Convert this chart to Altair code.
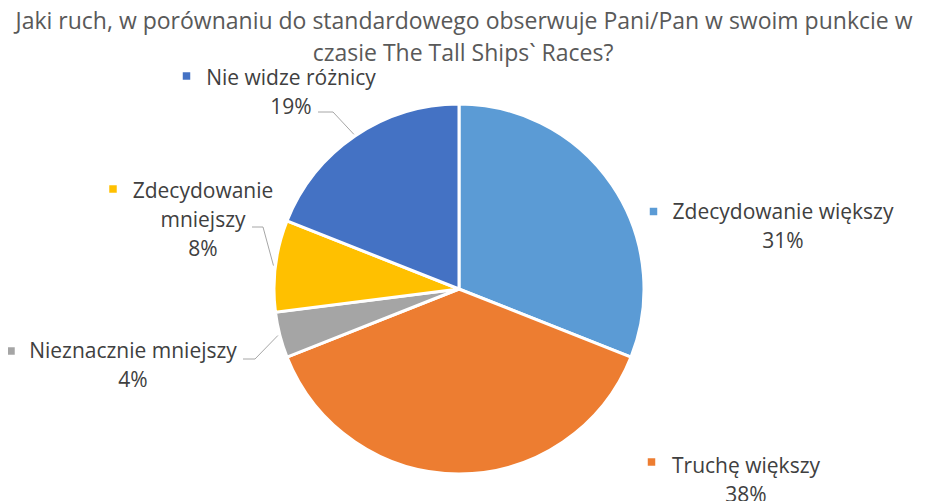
import math
import altair as alt
import pandas as pd

# ---- data ----
categories = ["Zdecydowanie większy", "Truchę większy", "Nieznacznie mniejszy",
              "Zdecydowanie mniejszy", "Nie widze różnicy"]
values = [31, 38, 4, 8, 19]
label_lines = [["Zdecydowanie większy"], ["Truchę większy"], ["Nieznacznie mniejszy"],
               ["Zdecydowanie", "mniejszy"], ["Nie widze różnicy"]]
title_lines = ["Jaki ruch, w porównaniu do standardowego obserwuje Pani/Pan w swoim punkcie w",
               "czasie The Tall Ships` Races?"]

# ---- style / layout ----
colors = ["#5B9BD5", "#ED7D31", "#A5A5A5", "#FFC000", "#4472C4"]
FONT = "Open Sans"
CX, CY, R = 451, 281, 185
W, H = 912, 493
LINE_H = 29
label_anchor = [(775, 211), (738, 465), (125, 350), (195, 190), (283, 77)]
marker_pos = [(645.5, 203.5), (643.5, 454), (3, 343), (105, 181), (178.5, 68)]
leader_start = {2: [(235, 351), (247, 351)], 3: [(244, 219), (255, 219)], 4: [(310, 104), (325, 104)]}

pie_df = pd.DataFrame({"category": categories, "value": values, "idx": range(len(values))})

# label text rows
rows = []
for i, lines in enumerate(label_lines):
    ax, ay = label_anchor[i]
    all_lines = lines + [f"{values[i]}%"]
    for j, t in enumerate(all_lines):
        rows.append({"text": t, "tx": ax, "ty": ay + j * LINE_H})
text_df = pd.DataFrame(rows)

marker_df = pd.DataFrame({"category": categories,
                          "mx": [p[0] for p in marker_pos],
                          "my": [p[1] for p in marker_pos]})

# leader lines end at slice mid-angle just outside the pie
total = sum(values)
lrows = []
cum = 0
for i, v in enumerate(values):
    mid = (cum + v / 2) / total * 2 * math.pi
    cum += v
    if i in leader_start:
        pts = leader_start[i] + [(CX + (R + 2) * math.sin(mid), CY - (R + 2) * math.cos(mid))]
        for k, (px, py) in enumerate(pts):
            lrows.append({"cat": categories[i], "k": k, "lx": px, "ly": py})
leader_df = pd.DataFrame(lrows)

title_df = pd.DataFrame({"text": title_lines, "tx": [456, 455], "ty": [21, 53]})

color_scale = alt.Scale(domain=categories, range=colors)

pie = alt.Chart(pie_df).mark_arc(outerRadius=R, stroke="white", strokeWidth=3).encode(
    theta=alt.Theta("value:Q", stack=True),
    color=alt.Color("category:N", scale=color_scale, legend=None),
    order=alt.Order("idx:Q"),
    x=alt.value(CX),
    y=alt.value(CY),
)

leaders = alt.Chart(leader_df).mark_line(color="#A6A6A6", strokeWidth=1).encode(
    x=alt.X("lx:Q", scale=None, axis=None),
    y=alt.Y("ly:Q", scale=None, axis=None),
    detail="cat:N",
    order="k:Q",
)

markers = alt.Chart(marker_df).mark_square(size=56, opacity=1).encode(
    x=alt.X("mx:Q", scale=None, axis=None),
    y=alt.Y("my:Q", scale=None, axis=None),
    color=alt.Color("category:N", scale=color_scale, legend=None),
)

labels = alt.Chart(text_df).mark_text(font=FONT, fontSize=21, color="#404040",
                                      align="center", baseline="alphabetic").encode(
    x=alt.X("tx:Q", scale=None, axis=None),
    y=alt.Y("ty:Q", scale=None, axis=None),
    text="text:N",
)

title = alt.Chart(title_df).mark_text(font=FONT, fontSize=23, color="#595959",
                                      align="center", baseline="alphabetic").encode(
    x=alt.X("tx:Q", scale=None, axis=None),
    y=alt.Y("ty:Q", scale=None, axis=None),
    text="text:N",
)

chart = alt.layer(pie, leaders, markers, labels, title).properties(
    width=W, height=H, padding=0,
    autosize=alt.AutoSizeParams(type="none"),
).configure_view(stroke=None)

chart.save("out.html", embed_options={"renderer": "svg", "actions": False})
